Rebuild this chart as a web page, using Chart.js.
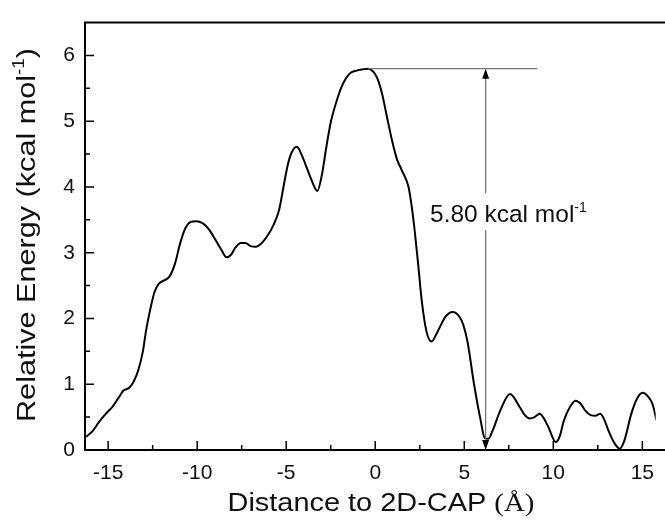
<!DOCTYPE html>
<html>
<head>
<meta charset="utf-8">
<script src="https://cdn.jsdelivr.net/npm/chart.js@4.4.0/dist/chart.umd.min.js"></script>
<style>
  html, body { margin: 0; padding: 0; background: #fff; }
  canvas { display: block; }
</style>
</head>
<body>
<canvas id="energyChart" width="665" height="523"></canvas>
<script>
// Energy profile along the distance to 2D-CAP
var distance = [
  -16.25, -15.9, -15.5, -15.1, -14.75, -14.4, -14.15, -13.8, -13.55, -13.3,
  -13.05, -12.85, -12.65, -12.4, -12.15, -11.85, -11.55, -11.25, -10.95, -10.65,
  -10.35, -10.05, -9.7, -9.35, -9.0, -8.65, -8.35, -8.1, -7.85, -7.55,
  -7.3, -7.0, -6.7, -6.4, -6.1, -5.75, -5.4, -5.12, -4.9, -4.7,
  -4.4, -4.15, -3.9, -3.6, -3.25, -3.0, -2.75, -2.5, -2.2, -1.85,
  -1.45, -1.05, -0.7, -0.4, -0.1, 0.12, 0.4, 0.67, 0.95, 1.22,
  1.5, 1.87, 2.05, 2.23, 2.42, 2.6, 2.88, 3.16, 3.5, 3.95,
  4.35, 4.72, 4.95, 5.18, 5.55, 5.92, 6.15, 6.35, 6.6, 7.02,
  7.57, 8.12, 8.4, 8.68, 8.95, 9.23, 9.69, 10.14, 10.35, 10.6,
  10.95, 11.25, 11.55, 11.8, 12.1, 12.35, 12.63, 12.85, 13.09, 13.4,
  13.73, 14.0, 14.38, 14.7, 15.02, 15.3, 15.57, 15.8, 16.0
];
var energy = [
  0.20, 0.28, 0.43, 0.56, 0.66, 0.80, 0.90, 0.95, 1.05, 1.22,
  1.50, 1.85, 2.12, 2.40, 2.53, 2.58, 2.64, 2.83, 3.15, 3.38,
  3.47, 3.48, 3.45, 3.36, 3.21, 3.05, 2.93, 2.97, 3.08, 3.15,
  3.15, 3.10, 3.09, 3.14, 3.24, 3.40, 3.65, 4.05, 4.35, 4.52,
  4.61, 4.50, 4.33, 4.12, 3.94, 4.18, 4.60, 4.98, 5.28, 5.55,
  5.72, 5.77, 5.79, 5.80, 5.75, 5.65, 5.40, 5.05, 4.70, 4.42,
  4.25, 4.00, 3.70, 3.30, 2.80, 2.30, 1.80, 1.65, 1.80, 2.03,
  2.10, 2.03, 1.90, 1.65, 1.00, 0.45, 0.18, 0.17, 0.30, 0.60,
  0.85, 0.65, 0.53, 0.48, 0.50, 0.55, 0.37, 0.12, 0.20, 0.45,
  0.66, 0.75, 0.70, 0.60, 0.53, 0.52, 0.55, 0.47, 0.30, 0.12,
  0.02, 0.15, 0.55, 0.78, 0.87, 0.82, 0.70, 0.45, 0.25
];

var xMajorTicks = [-15, -10, -5, 0, 5, 10, 15];
var xMinorTicks = [-12.5, -7.5, -2.5, 2.5, 7.5, 12.5];
var yMajorTicks = [0, 1, 2, 3, 4, 5, 6];
var yMinorTicks = [0.5, 1.5, 2.5, 3.5, 4.5, 5.5];

// barrier annotation
var barrierHeight = 5.80;
var peakX = -0.4;
var arrowX = 6.2;
var guideEndX = 9.1;
var barrierLabel = '5.80 kcal mol';

var SANS = '"Liberation Sans", Arial, sans-serif';
var SERIF = '"Liberation Serif", "Times New Roman", serif';

function drawSup(ctx, x, y, main, sup, size, supSize) {
  ctx.font = size + 'px ' + SANS;
  ctx.fillText(main, x, y);
  var w = ctx.measureText(main).width;
  ctx.font = supSize + 'px ' + SANS;
  ctx.fillText(sup, x + w, y - size * 0.42);
  return w + ctx.measureText(sup).width;
}

var framePlugin = {
  id: 'frame',
  afterDraw: function (chart) {
    var ctx = chart.ctx;
    var area = chart.chartArea;
    var xs = chart.scales.x;
    var ys = chart.scales.y;
    ctx.save();

    // frame
    ctx.strokeStyle = '#000';
    ctx.lineWidth = 2;
    ctx.beginPath();
    ctx.moveTo(chart.width + 2, area.top);
    ctx.lineTo(area.left, area.top);
    ctx.lineTo(area.left, area.bottom);
    ctx.lineTo(chart.width + 2, area.bottom);
    ctx.stroke();

    // inward ticks
    ctx.lineWidth = 1.5;
    ctx.beginPath();
    xMajorTicks.forEach(function (v) {
      var px = xs.getPixelForValue(v);
      ctx.moveTo(px, area.bottom); ctx.lineTo(px, area.bottom - 9);
    });
    xMinorTicks.forEach(function (v) {
      var px = xs.getPixelForValue(v);
      ctx.moveTo(px, area.bottom); ctx.lineTo(px, area.bottom - 5);
    });
    yMajorTicks.forEach(function (v) {
      var py = ys.getPixelForValue(v);
      ctx.moveTo(area.left, py); ctx.lineTo(area.left + 9, py);
    });
    yMinorTicks.forEach(function (v) {
      var py = ys.getPixelForValue(v);
      ctx.moveTo(area.left, py); ctx.lineTo(area.left + 5, py);
    });
    ctx.stroke();

    // barrier annotation
    var ax = xs.getPixelForValue(arrowX);
    var topY = ys.getPixelForValue(barrierHeight);
    var botY = ys.getPixelForValue(0);
    ctx.strokeStyle = '#777';
    ctx.lineWidth = 1.3;
    ctx.beginPath();
    ctx.moveTo(xs.getPixelForValue(peakX), topY);
    ctx.lineTo(xs.getPixelForValue(guideEndX), topY);
    ctx.moveTo(ax, topY + 2);
    ctx.lineTo(ax, botY - 2);
    ctx.stroke();
    ctx.fillStyle = '#000';
    ctx.beginPath();
    ctx.moveTo(ax, topY); ctx.lineTo(ax - 3.5, topY + 10); ctx.lineTo(ax + 3.5, topY + 10);
    ctx.closePath(); ctx.fill();
    ctx.beginPath();
    ctx.moveTo(ax, botY); ctx.lineTo(ax - 3.5, botY - 10); ctx.lineTo(ax + 3.5, botY - 10);
    ctx.closePath(); ctx.fill();

    // label with white backing over the arrow
    ctx.fillStyle = '#fff';
    ctx.fillRect(ax - 8, 193, 16, 37);
    ctx.fillStyle = '#111';
    ctx.textBaseline = 'alphabetic';
    ctx.textAlign = 'left';
    drawSup(ctx, 430, 222, barrierLabel, '-1', 24.5, 14);

    // x title (slightly wide lettering, as in the original figure)
    ctx.save();
    ctx.font = '26px ' + SANS;
    var t1 = 'Distance to 2D-CAP ';
    var w1 = ctx.measureText(t1).width;
    ctx.font = '26px ' + SERIF;
    var t2 = '(\u00C5)';
    var w2 = ctx.measureText(t2).width;
    var xStretch = 307 / (w1 + w2);
    ctx.translate(381, 511);
    ctx.scale(xStretch, 1);
    var sx = -(w1 + w2) / 2;
    ctx.font = '26px ' + SANS;
    ctx.fillText(t1, sx, 0);
    ctx.font = '26px ' + SERIF;
    ctx.fillText(t2, sx + w1, 0);
    ctx.restore();

    // y title
    ctx.save();
    ctx.translate(35, 235);
    ctx.rotate(-Math.PI / 2);
    ctx.font = '26px ' + SANS;
    var a = 'Relative Energy (kcal mol';
    var wa = ctx.measureText(a).width;
    ctx.font = '16px ' + SANS;
    var wb = ctx.measureText('-1').width;
    ctx.font = '26px ' + SANS;
    var wc = ctx.measureText(')').width;
    var total = wa + wb + wc;
    ctx.scale(374 / total, 1);
    var start = -total / 2;
    var used = drawSup(ctx, start, 0, a, '-1', 26, 16);
    ctx.font = '26px ' + SANS;
    ctx.fillText(')', start + used, 0);
    ctx.restore();

    ctx.restore();
  }
};

new Chart(document.getElementById('energyChart'), {
  type: 'line',
  data: {
    datasets: [{
      data: distance.map(function (d, i) { return { x: d, y: energy[i] }; }),
      borderColor: '#000',
      borderWidth: 2,
      pointRadius: 0,
      fill: false,
      cubicInterpolationMode: 'monotone'
    }]
  },
  options: {
    responsive: false,
    animation: false,
    devicePixelRatio: 1,
    layout: { padding: { top: 17, right: 0, left: 0, bottom: 0 } },
    plugins: { legend: { display: false }, tooltip: { enabled: false } },
    scales: {
      x: {
        type: 'linear',
        min: -16.3,
        max: 15.75,
        afterFit: function (scale) { scale.height = 73; },
        afterBuildTicks: function (scale) {
          scale.ticks = xMajorTicks.map(function (v) { return { value: v }; });
        },
        grid: { display: false, drawTicks: false },
        border: { display: false },
        ticks: {
          color: '#111',
          padding: 11,
          font: { family: SANS, size: 21 },
          maxRotation: 0,
          callback: function (v) { return String(v); }
        }
      },
      y: {
        type: 'linear',
        min: 0,
        max: 6.5,
        afterFit: function (scale) { scale.width = 85; },
        afterBuildTicks: function (scale) {
          scale.ticks = yMajorTicks.map(function (v) { return { value: v }; });
        },
        grid: { display: false, drawTicks: false },
        border: { display: false },
        ticks: {
          color: '#111',
          padding: 10,
          font: { family: SANS, size: 21 },
          callback: function (v) { return String(v); }
        }
      }
    }
  },
  plugins: [framePlugin]
});
</script>
</body>
</html>
